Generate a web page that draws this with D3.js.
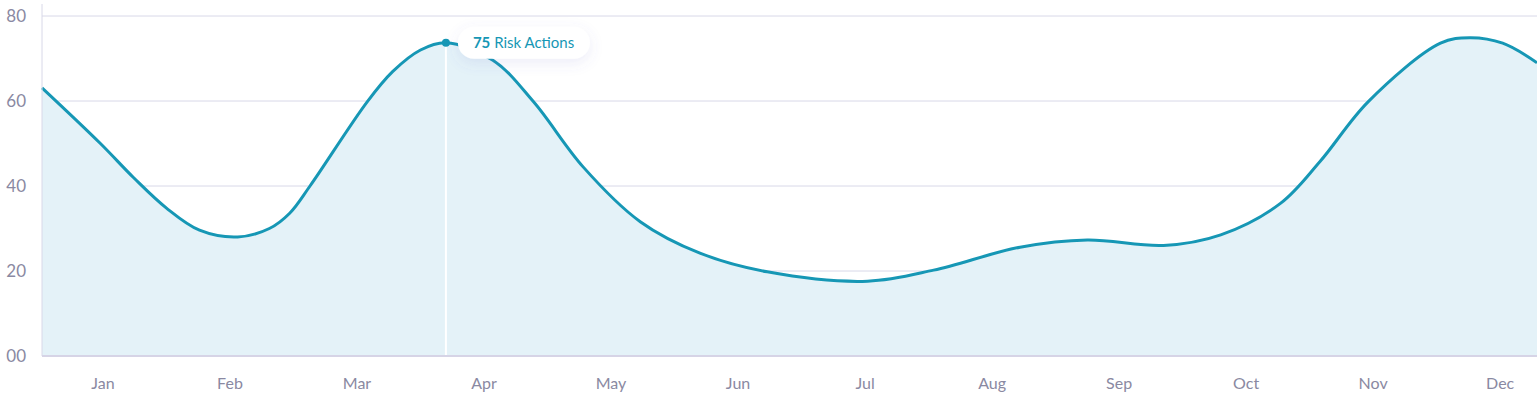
<!DOCTYPE html>
<html>
<head>
<meta charset="utf-8">
<script src="https://cdn.jsdelivr.net/npm/d3@7"></script>
<style>
  html, body { margin: 0; padding: 0; background: #fff; }
  svg { display: block; font-family: Lato, "Noto Sans", sans-serif; }
</style>
</head>
<body>
<div id="chart"></div>
<script>
// month tick labels
const months = ["Jan","Feb","Mar","Apr","May","Jun","Jul","Aug","Sep","Oct","Nov","Dec"];
// curve knots: position in months (0 = Jan) and value
const knotPos = [-0.48, -0.02, 0.24, 0.5, 0.76, 1.06, 1.31, 1.47, 1.63, 2.08, 2.28, 2.5, 2.7,
                 3.07, 3.39, 3.78, 4.23, 4.7, 5.23, 6.02, 6.54, 7.22, 7.75, 8.35, 8.8, 9.27,
                 9.58, 9.96, 10.53, 10.76, 11.02, 11.29];
const riskActions = [63.1, 50, 42, 34.8, 29.6, 28, 30, 33.6, 40, 59.8, 66.9, 72, 73.7,
                     69.6, 59.8, 44.5, 31.6, 24.2, 19.8, 17.6, 20.2, 25.6, 27.3, 26, 28.5, 35.9,
                     45.7, 59.8, 73.6, 74.9, 73.6, 69];
const yTicks = [0, 20, 40, 60, 80];
// hovered point
const hoverIndex = 12;
const hoverLabel = "75";

var margin = {top: 16, right: 0, bottom: 41, left: 42},
    width = 1537 - margin.left - margin.right,
    height = 397 - margin.top - margin.bottom;

var svg = d3.select("#chart").append("svg")
    .attr("width", 1537)
    .attr("height", 397);

var g = svg.append("g")
    .attr("transform", "translate(" + margin.left + "," + margin.top + ")");

var x = d3.scaleLinear().domain([-0.48, 11.29]).range([0, width]);
var y = d3.scaleLinear().domain([0, 80]).range([height, 0]);

var data = knotPos.map((p, i) => ({pos: p, value: riskActions[i]}));

// gridlines
g.selectAll(".grid")
  .data(yTicks.filter(d => d > 0))
  .enter().append("line")
    .attr("x1", 0).attr("x2", width)
    .attr("y1", d => y(d)).attr("y2", d => y(d))
    .attr("stroke", "#d8d8e8")
    .attr("stroke-width", 1);

// y labels
g.selectAll(".ylab")
  .data(yTicks)
  .enter().append("text")
    .attr("x", -16)
    .attr("y", d => y(d))
    .attr("dy", "0.35em")
    .attr("text-anchor", "end")
    .attr("fill", "#8a89a2")
    .style("font-size", "17px")
    .text(d => d === 0 ? "00" : d);

// area + line
var area = d3.area()
    .x(d => x(d.pos))
    .y0(height)
    .y1(d => y(d.value))
    .curve(d3.curveCatmullRom.alpha(0.5));

var line = d3.line()
    .x(d => x(d.pos))
    .y(d => y(d.value))
    .curve(d3.curveCatmullRom.alpha(0.5));

g.append("path")
    .datum(data)
    .attr("d", area)
    .attr("fill", "#e4f2f8");

// hover line
var hp = data[hoverIndex];
g.append("line")
    .attr("x1", x(hp.pos)).attr("x2", x(hp.pos))
    .attr("y1", y(hp.value)).attr("y2", height)
    .attr("stroke", "#ffffff")
    .attr("stroke-width", 2);

g.append("path")
    .datum(data)
    .attr("d", line)
    .attr("fill", "none")
    .attr("stroke", "#1697b5")
    .attr("stroke-width", 3);

// axes lines
g.append("line")
    .attr("x1", 0).attr("x2", 0)
    .attr("y1", -12).attr("y2", height)
    .attr("stroke", "#d8d8e8").attr("stroke-width", 1);
g.append("line")
    .attr("x1", 0).attr("x2", width)
    .attr("y1", height).attr("y2", height)
    .attr("stroke", "#d6d4e6").attr("stroke-width", 2);

// month labels
g.selectAll(".xlab")
  .data(months)
  .enter().append("text")
    .attr("x", (d, i) => x(i))
    .attr("y", height + 33)
    .attr("text-anchor", "middle")
    .attr("fill", "#8a89a2")
    .style("font-size", "16px")
    .text(d => d);

// tooltip
var defs = svg.append("defs");
var f = defs.append("filter").attr("id", "shadow")
    .attr("x", "-30%").attr("y", "-80%").attr("width", "160%").attr("height", "260%");
f.append("feDropShadow").attr("dx", 0).attr("dy", 4).attr("stdDeviation", 7)
    .attr("flood-color", "#6b6bc8").attr("flood-opacity", 0.12);

g.append("circle")
    .attr("cx", x(hp.pos)).attr("cy", y(hp.value))
    .attr("r", 4)
    .attr("fill", "#1697b5");

var tip = g.append("g")
    .attr("transform", "translate(" + (x(hp.pos) + 12) + "," + (y(hp.value) - 16) + ")");
tip.append("rect")
    .attr("width", 132).attr("height", 32)
    .attr("rx", 16)
    .attr("fill", "#fff")
    .attr("filter", "url(#shadow)");
var t = tip.append("text")
    .attr("x", 15).attr("y", 21)
    .attr("fill", "#1697b5")
    .style("font-size", "15px");
t.append("tspan").style("font-weight", "bold").text(hoverLabel);
t.append("tspan").text(" Risk Actions");
</script>
</body>
</html>
